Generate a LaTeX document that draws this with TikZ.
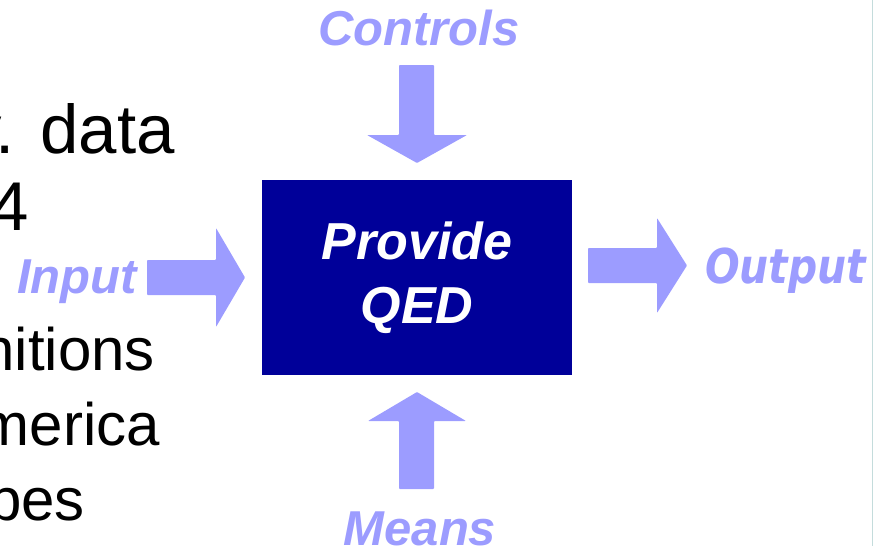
\documentclass[tikz,border=0pt]{standalone}
\usepackage{fontspec}
\setmainfont{Liberation Sans}
\newfontfamily\outfont{DejaVu Sans}
\definecolor{arrowc}{HTML}{9C9CFF}
\definecolor{boxc}{HTML}{000099}
\definecolor{edgec}{HTML}{C4DCDC}
\tikzset{
  blockarrow/.style={fill=arrowc, rounded corners=0.8pt},
  lbl/.style={text=arrowc, inner sep=0pt, font=\fontsize{49}{49}\selectfont\bfseries\itshape},
  bodytext/.style={text=black, inner sep=0pt, anchor=base east, font=\fontsize{69}{69}\selectfont},
  subtext/.style={text=black, inner sep=0pt, anchor=base east, font=\fontsize{60}{60}\selectfont},
  procbox/.style={fill=boxc, text=white, inner sep=0pt, minimum width=310pt, minimum height=195pt, align=center, font=\fontsize{52}{64}\selectfont\bfseries\itshape}
}
\begin{document}
\begin{tikzpicture}[x=1pt,y=-1pt]
\useasboundingbox (0,0) rectangle (873,546);
\clip (0,0) rectangle (873,546);
% left body text (cut off at the left edge, as in the reference)
\node[bodytext] (t1) at (175,153) {v\kern-6pt. data};
\node[bodytext] (t2) at (29,230) {4};
\node[subtext] (t3) at (155,370) {nitions};
\node[subtext] (t4) at (160,445) {merica};
\node[subtext] (t5) at (85,520) {pes};
% process box
\node[procbox] (box) at (417,277.5) {Provide\\QED};
% labels
\node[lbl, anchor=base] (controls) at (419,45) {Controls};
\node[lbl, anchor=base west] (input) at (17,293) {Input};
\node[lbl, anchor=base] (means) at (420,545) {Means};
\node[text=arrowc, inner sep=0pt, anchor=base west, font=\outfont\fontsize{48}{48}\selectfont\bfseries\itshape] (output) at (705,283) {\scalebox{0.85}[1]{Output}};
% block arrows
\fill[blockarrow] (399,65) -- (434,65) -- (434,135) -- (467,135) -- (417,163) -- (367,135) -- (399,135) -- cycle;
\fill[blockarrow] (399,489) -- (434,489) -- (434,421) -- (466,421) -- (417,392) -- (368,421) -- (399,421) -- cycle;
\fill[blockarrow] (147,260) -- (216,260) -- (216,228) -- (245,277.5) -- (216,327) -- (216,295) -- (147,295) -- cycle;
\fill[blockarrow] (588,248) -- (657,248) -- (657,218) -- (687,265.5) -- (657,313) -- (657,283) -- (588,283) -- cycle;
% right edge line
\draw[edgec, line width=1pt] (872.5,0) -- (872.5,546);
\end{tikzpicture}
\end{document}
